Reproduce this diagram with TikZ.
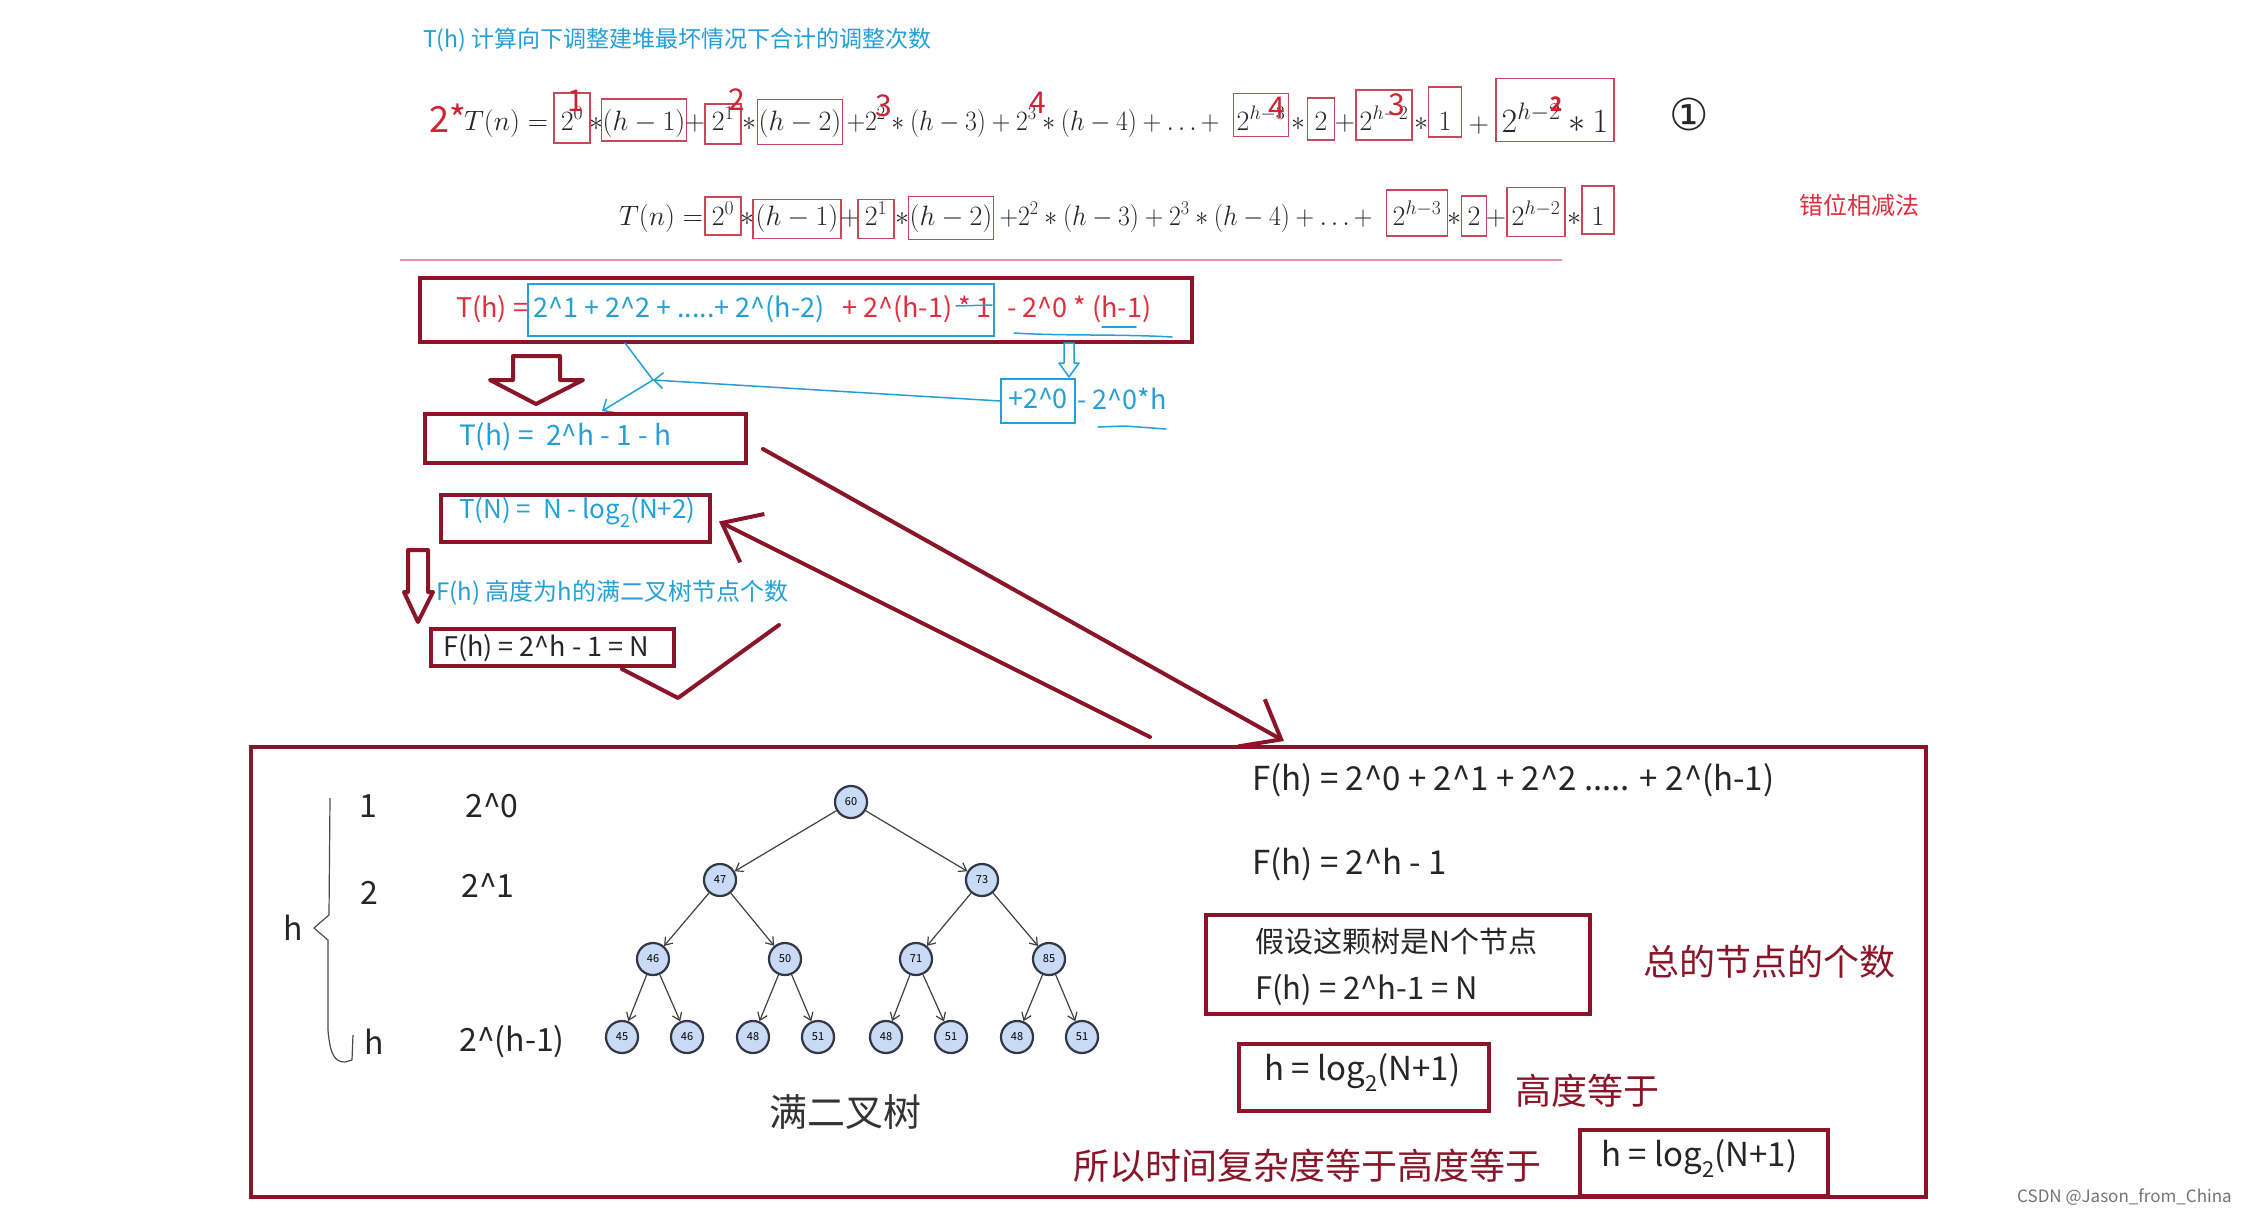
\RequirePackage{fix-cm}
\documentclass[tikz,border=0pt]{standalone}
\usepackage[no-math]{fontspec}
\setmainfont{Noto Sans CJK SC}
\newfontfamily\symfont{DejaVu Sans}
\usetikzlibrary{arrows.meta}
\newcommand\myfs[1]{\fontsize{#1}{#1}\selectfont}
\newcommand\ca{\textasciicircum}
\definecolor{dred}{RGB}{139,21,40}
\definecolor{tcyan}{RGB}{35,160,215}
\definecolor{tred}{RGB}{226,45,60}
\definecolor{pboxc}{RGB}{200,70,85}
\definecolor{hred}{RGB}{205,35,50}
\definecolor{nodefill}{RGB}{200,218,245}
\definecolor{nodeline}{RGB}{50,55,70}
\definecolor{pinkline}{RGB}{225,150,160}
\begin{document}
\begin{tikzpicture}[x=1pt,y=-1pt,
  mt/.style={anchor=base, inner sep=0pt, font=\myfs{28}, text=black!85},
  hw/.style={inner sep=0pt, font=\myfs{30}, text=hred},
  pbox/.style={draw=pboxc, line width=1.6pt, inner sep=0pt},
  dbox/.style={draw=dred, line width=4pt, inner sep=0pt},
  cbox/.style={draw=tcyan, line width=1.5pt, inner sep=0pt},
  hand/.style={draw=dred, line width=4pt, line cap=round, line join=round},
  cline/.style={draw=tcyan, line width=1.5pt, line cap=round, line join=round},
  lt/.style={anchor=west, inner sep=0pt},
  tnode/.style={circle, draw=nodeline, fill=nodefill, line width=2.2pt, minimum size=32pt, inner sep=0pt, font=\myfs{11}},
  tedge/.style={draw=black!75, line width=1.2pt, -{Straight Barb[length=7pt,width=10pt]}},
  bigtip/.style={-{Straight Barb[length=34pt,width=54pt]}}
]
\path[fill=white, use as bounding box] (0,0) rectangle (2262,1216);

% title
\node[lt, text=tcyan, font=\myfs{23}] (title) at (423,40) {T(h) 计算向下调整建堆最坏情况下合计的调整次数};

% ---------- line 1 ----------
\node[hw, anchor=base, font=\myfs{36}] (l1two) at (448,132) {2*};
\node[mt] (l1a) at (506,130) {$T(n) =$};
\node[pbox, minimum width=36, minimum height=50] (b1a) at (572,118) {};
\node[mt] (l1b) at (572,130) {$2^0$};
\node[mt] (l1c) at (596,130) {$*$};
\node[pbox, minimum width=85, minimum height=42] (b1b) at (644,120) {};
\node[mt] (l1d) at (644,130) {$(h-1)$};
\node[mt] (l1e) at (695,130) {$+$};
\node[pbox, minimum width=36, minimum height=40] (b1c) at (723,124) {};
\node[mt] (l1f) at (723,130) {$2^1$};
\node[mt] (l1g) at (749,130) {$*$};
\node[pbox, minimum width=85, minimum height=45] (b1d) at (800,122) {};
\node[mt] (l1h) at (800,130) {$(h-2)$};
\node[mt] (l1i) at (1033,130) {\scalebox{0.92}[1]{$+2^2*(h-3)+2^3*(h-4)+\ldots+$}};
\node[pbox, minimum width=55, minimum height=43] (b1e) at (1261,115) {};
\node[mt] (l1j) at (1261,130) {$2^{h-3}$};
\node[mt] (l1k) at (1298,130) {$*$};
\node[pbox, minimum width=27, minimum height=42] (b1f) at (1321,119) {};
\node[mt] (l1l) at (1321,130) {$2$};
\node[mt] (l1m) at (1345,130) {$+$};
\node[pbox, minimum width=56, minimum height=50] (b1g) at (1384,115) {};
\node[mt] (l1n) at (1384,130) {$2^{h-2}$};
\node[mt] (l1o) at (1421,130) {$*$};
\node[pbox, minimum width=33, minimum height=50] (b1h) at (1445,112) {};
\node[mt] (l1p) at (1445,130) {$1$};
\node[mt] (l1q) at (1479,132) {$+$};
\node[pbox, minimum width=118, minimum height=63] (b1i) at (1555,110) {};
\node[mt, font=\myfs{34}] (l1r) at (1555,132) {$2^{h-2} * 1$};
\node[inner sep=0pt, font=\symfont\myfs{44}, text=black!85] (circ1) at (1689,114) {①};
% red handwritten digits
\node[hw] (r1) at (576,101) {1};
\node[hw] (r2) at (737,100) {2};
\node[hw] (r3) at (884,106) {3};
\node[hw] (r4) at (1038,103) {4};
\node[hw] (r5) at (1277,108) {4};
\node[hw] (r6) at (1397,105) {3};
\node[hw, font=\bfseries\myfs{20}] (r7) at (1557,104) {2};

% ---------- line 2 ----------
\node[mt] (l2a) at (661,225) {$T(n) =$};
\node[pbox, minimum width=36, minimum height=38] (b2a) at (723,216) {};
\node[mt] (l2b) at (723,225) {$2^0$};
\node[mt] (l2c) at (747,225) {$*$};
\node[pbox, minimum width=88, minimum height=39] (b2b) at (797,219) {};
\node[mt] (l2d) at (797,225) {$(h-1)$};
\node[mt] (l2e) at (850,225) {$+$};
\node[pbox, minimum width=36, minimum height=39] (b2c) at (876,219) {};
\node[mt] (l2f) at (876,225) {$2^1$};
\node[mt] (l2g) at (902,225) {$*$};
\node[pbox, minimum width=85, minimum height=43] (b2d) at (951,218) {};
\node[mt] (l2h) at (951,225) {$(h-2)$};
\node[mt] (l2i) at (1186,225) {\scalebox{0.92}[1]{$+2^2*(h-3)+2^3*(h-4)+\ldots+$}};
\node[pbox, minimum width=61, minimum height=46] (b2e) at (1417,213) {};
\node[mt] (l2j) at (1417,225) {$2^{h-3}$};
\node[mt] (l2k) at (1454,225) {$*$};
\node[pbox, minimum width=25, minimum height=40] (b2f) at (1474,216) {};
\node[mt] (l2l) at (1474,225) {$2$};
\node[mt] (l2m) at (1496,225) {$+$};
\node[pbox, minimum width=58, minimum height=49] (b2g) at (1536,212) {};
\node[mt] (l2n) at (1536,225) {$2^{h-2}$};
\node[mt] (l2o) at (1574,225) {$*$};
\node[pbox, minimum width=32, minimum height=48] (b2h) at (1598,210) {};
\node[mt] (l2p) at (1598,225) {$1$};

\node[lt, text=tred, font=\myfs{24}] (cuowei) at (1799,205) {错位相减法};
\draw[pinkline, line width=1.5pt] (400,260) -- (1562,260);

% ---------- box 1 ----------
\node[dbox, minimum width=772, minimum height=64] (box1) at (806,310) {};
\node[cbox, minimum width=466, minimum height=52] (cbox1) at (761,310) {};
\node[lt, text=tred, font=\myfs{27}] (t1a) at (456,309) {T(h) =};
\node[lt, text=tcyan, font=\myfs{27}] (t1b) at (533,309) {2\ca 1 + 2\ca 2 + .....+ 2\ca(h-2)};
\node[lt, text=tred, font=\myfs{27}] (t1c) at (842,309) {+ 2\ca(h-1) * 1};
\node[lt, text=tred, font=\myfs{27}] (t1d) at (1007,309) {- 2\ca 0 * (h-1)};
\draw[cline] (956,306) -- (992,305);
\draw[cline] (1014,333) .. controls (1060,336) and (1120,334) .. (1172,337);
\draw[cline] (1102,327) -- (1136,327);

% hollow arrows
\draw[hand, line cap=butt] (513,356) -- (560,356) -- (560,380) -- (583,380) -- (536,404) -- (490,380) -- (513,380) -- cycle;
\draw[hand, line cap=butt] (408,550) -- (428,550) -- (428,592) -- (433,592) -- (418,622) -- (404,592) -- (408,592) -- cycle;
\draw[cline, line cap=butt] (1064,343) -- (1074,343) -- (1074,363) -- (1079,363) -- (1069,377) -- (1059,363) -- (1064,363) -- cycle;

% box with +2^0
\node[cbox, minimum width=74, minimum height=44] (pbox20) at (1038,401) {};
\node[text=tcyan, font=\myfs{27}, inner sep=0pt] (t20a) at (1038,399) {+2\ca 0};
\node[lt, text=tcyan, font=\myfs{27}] (t20b) at (1077,399) {- 2\ca 0*h};
\draw[cline] (1098,427) -- (1125,426) -- (1166,429);

% cyan connectors
\coordinate (cs) at (625,343);
\coordinate (cj) at (653,380);
\coordinate (ce) at (602,411);
\draw[cline] (cs) -- (cj);
\draw[cline, -{Straight Barb[length=9pt,width=16pt]}] (cj) -- (ce);
\draw[cline, -{Straight Barb[length=9pt,width=16pt]}] (pbox20.west) -- (cj);

% ---------- box 2,3,4 ----------
\node[dbox, minimum width=321, minimum height=49] (box2) at (585.5,438.5) {};
\node[lt, text=tcyan, font=\myfs{28}] (t2) at (459,437) {T(h) =\ \ 2\ca h - 1 - h};
\node[dbox, minimum width=269, minimum height=47] (box3) at (575.5,518.5) {};
\node[lt, text=tcyan, font=\myfs{26}] (t3) at (459,512) {T(N) =\ \ N - log\raisebox{-9pt}{\myfs{18}2}(N+2)};
\node[lt, text=tcyan, font=\myfs{24}] (fh) at (436,593) {F(h) 高度为h的满二叉树节点个数};
\node[dbox, minimum width=243, minimum height=37] (box4) at (552.5,647.5) {};
\node[lt, text=black!85, font=\myfs{27}] (t4) at (443,648) {F(h) = 2\ca h - 1 = N};
\draw[hand] (622,669) -- (678,698) -- (779,625);

% long red arrows
\coordinate (a1s) at (763,449);
\coordinate (a1e) at (1284,741);
\draw[hand, bigtip] (a1s) -- (a1e);
\coordinate (a2s) at (1150,737);
\draw[hand, bigtip] (a2s) -- ([xshift=7pt,yshift=-3pt]box3.east);

% ---------- big box ----------
\node[dbox, line width=3.5pt, minimum width=1675, minimum height=450] (big) at (1088.5,972) {};

% left labels and brace
\node[text=black!85, font=\myfs{32}, inner sep=0pt] (lv1) at (368,806) {1};
\node[text=black!85, font=\myfs{32}, inner sep=0pt] (lv2) at (369,893) {2};
\node[text=black!85, font=\myfs{32}, inner sep=0pt] (lvh) at (374,1042) {h};
\node[text=black!85, font=\myfs{32}, inner sep=0pt] (lc1) at (492,806) {2\ca 0};
\node[text=black!85, font=\myfs{32}, inner sep=0pt] (lc2) at (488,886) {2\ca 1};
\node[text=black!85, font=\myfs{32}, inner sep=0pt] (lc3) at (512,1042) {2\ca(h-1)};
\node[text=black!85, font=\myfs{32}, inner sep=0pt] (bh) at (293,928) {h};
\draw[black!70, line width=1.2pt, line join=round] (330,798) -- (329,915) -- (314,928) -- (328,940) -- (328,1030) .. controls (330,1055) and (335,1062) .. (345,1062) -- (352,1060) -- (353,1035);

% tree
\node[tnode] (n60) at (851,802) {60};
\node[tnode] (n47) at (720,880) {47};
\node[tnode] (n73) at (982,880) {73};
\node[tnode] (n46) at (653,959) {46};
\node[tnode] (n50) at (785,959) {50};
\node[tnode] (n71) at (916,959) {71};
\node[tnode] (n85) at (1049,959) {85};
\node[tnode] (m1) at (622,1037) {45};
\node[tnode] (m2) at (687,1037) {46};
\node[tnode] (m3) at (753,1037) {48};
\node[tnode] (m4) at (818,1037) {51};
\node[tnode] (m5) at (886,1037) {48};
\node[tnode] (m6) at (951,1037) {51};
\node[tnode] (m7) at (1017,1037) {48};
\node[tnode] (m8) at (1082,1037) {51};
\draw[tedge] (n60) -- (n47);
\draw[tedge] (n60) -- (n73);
\draw[tedge] (n47) -- (n46);
\draw[tedge] (n47) -- (n50);
\draw[tedge] (n73) -- (n71);
\draw[tedge] (n73) -- (n85);
\draw[tedge] (n46) -- (m1);
\draw[tedge] (n46) -- (m2);
\draw[tedge] (n50) -- (m3);
\draw[tedge] (n50) -- (m4);
\draw[tedge] (n71) -- (m5);
\draw[tedge] (n71) -- (m6);
\draw[tedge] (n85) -- (m7);
\draw[tedge] (n85) -- (m8);
\node[text=black!80, font=\myfs{38}, inner sep=0pt] (mtree) at (845,1112) {满二叉树};

% right column
\node[lt, text=black!85, font=\myfs{33}] (r1t) at (1252,780) {F(h) = 2\ca 0 + 2\ca 1 + 2\ca 2 ..... + 2\ca(h-1)};
\node[lt, text=black!85, font=\myfs{33}] (r2t) at (1252,864) {F(h) = 2\ca h - 1};
\node[dbox, minimum width=384, minimum height=99] (boxN) at (1398,964.5) {};
\node[lt, text=black!85, font=\myfs{29}] (r3t) at (1255,941) {假设这颗树是N个节点};
\node[lt, text=black!85, font=\myfs{31}] (r4t) at (1255,990) {F(h) = 2\ca h-1 = N};
\node[lt, text=dred, font=\myfs{36}] (r5t) at (1643,962) {总的节点的个数};
\node[dbox, minimum width=250, minimum height=67] (boxh1) at (1364,1077.5) {};
\node[lt, text=black!85, font=\myfs{33}] (r6t) at (1264,1072) {h = log\raisebox{-11pt}{\myfs{22}2}(N+1)};
\node[lt, text=dred, font=\myfs{36}] (r7t) at (1515,1091) {高度等于};
\node[lt, text=dred, font=\myfs{36}] (r8t) at (1073,1166) {所以时间复杂度等于高度等于};
\node[dbox, minimum width=248, minimum height=66] (boxh2) at (1704,1163) {};
\node[lt, text=black!85, font=\myfs{33}] (r9t) at (1601,1158) {h = log\raisebox{-11pt}{\myfs{22}2}(N+1)};
\node[lt, text=black!55, font=\myfs{17}] (csdn) at (2017,1197) {CSDN @Jason\_from\_China};
\end{tikzpicture}
\end{document}
